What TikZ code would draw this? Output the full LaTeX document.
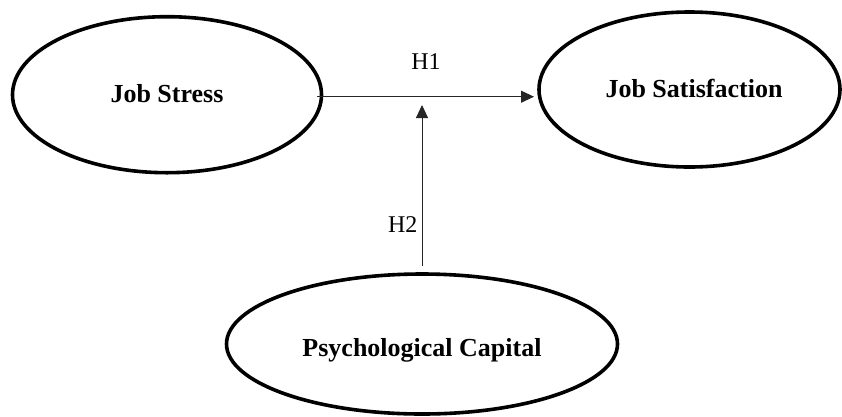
\documentclass[tikz,border=0pt]{standalone}
\usepackage{fontspec}
\setmainfont{Liberation Serif}
\usetikzlibrary{shapes.geometric,arrows.meta}
\begin{document}
\begin{tikzpicture}[x=1pt,y=-1pt,
  oval/.style={ellipse,draw=black,line width=3.6pt,inner sep=0pt},
  lbl/.style={font=\fontsize{26}{30}\selectfont\bfseries,anchor=base,inner sep=0pt},
  hyp/.style={font=\fontsize{24}{28}\selectfont,anchor=base,inner sep=0pt},
  arr/.style={draw=black!85,line width=1pt,-{Triangle[length=13pt,width=12pt]}}]
\useasboundingbox (0,0) rectangle (842,416);
\node[oval,minimum width=309pt,minimum height=156pt] (js) at (167,94.7) {};
\node[oval,minimum width=301pt,minimum height=155pt] (jsat) at (689.5,89.5) {};
\node[oval,minimum width=391pt,minimum height=140pt] (pc) at (422,344) {};
\node[lbl] (jsl) at (167,102.7) {Job Stress};
\node[lbl] (jsatl) at (694,97.3) {Job Satisfaction};
\node[lbl] (pcl) at (422,356.7) {Psychological Capital};
\coordinate (hs) at (317,96.7);
\coordinate (he) at (534,96.7);
\coordinate (vs) at (422,266);
\coordinate (ve) at (422,105);
\draw[arr] (hs) -- (he);
\draw[arr] (vs) -- (ve);
\node[hyp] (h1) at (426,69.3) {H1};
\node[hyp] (h2) at (402.8,232.7) {H2};
\end{tikzpicture}
\end{document}
